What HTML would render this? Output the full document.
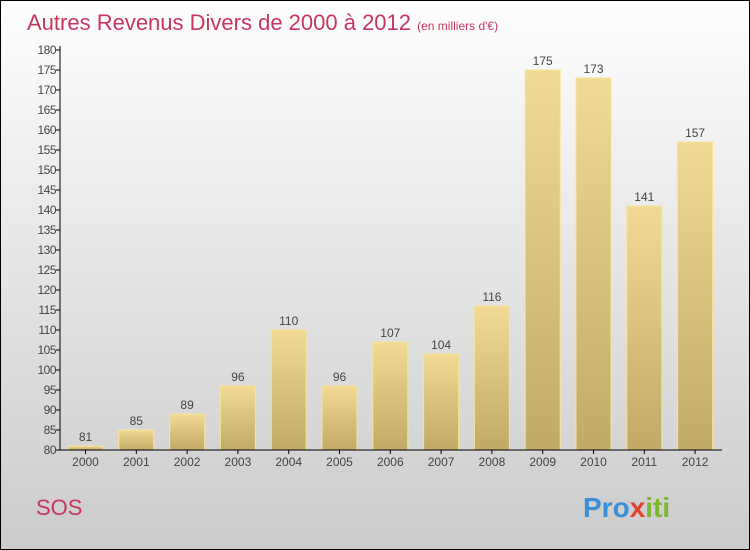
<!DOCTYPE html>
<html><head><meta charset="utf-8"><style>
body{margin:0}
svg{display:block;font-family:"Liberation Sans",sans-serif}
</style></head><body>
<svg id="c" width="750" height="550">
<defs>
<linearGradient id="bg" x1="0" y1="0" x2="0" y2="1"><stop offset="0" stop-color="#fefefe"/><stop offset="1" stop-color="#cbcbcb"/></linearGradient>
<linearGradient id="bar" x1="0" y1="0" x2="0" y2="1"><stop offset="0" stop-color="#f2da94"/><stop offset="1" stop-color="#c2aa66"/></linearGradient>
</defs>
<rect x="0.5" y="0.5" width="749" height="549" fill="url(#bg)" stroke="#000"/>
<text x="27" y="30" font-size="22" fill="#c8365f">Autres Revenus Divers de 2000 à 2012 <tspan font-size="12">(en milliers d'€)</tspan></text>
<text x="36" y="515" font-size="22" fill="#c8365f">SOS</text>
<text x="583" y="517" font-size="28" font-weight="bold"><tspan fill="#3a8fd6">Pro</tspan><tspan fill="#e2432e">x</tspan><tspan fill="#7cb72e">iti</tspan></text>
<g id="bars"></g>
<g id="axes"></g>
</svg>
<script>
const years=["2000","2001","2002","2003","2004","2005","2006","2007","2008","2009","2010","2011","2012"];
const values=[81,85,89,96,110,96,107,104,116,175,173,141,157];
const yTicks=[80,85,90,95,100,105,110,115,120,125,130,135,140,145,150,155,160,165,170,175,180];
const NS="http://www.w3.org/2000/svg";
const y=v=>450-(v-80)*4;
const x=i=>85.5+i*50.8;
function mk(t,a,p){const e=document.createElementNS(NS,t);for(const k in a)e.setAttribute(k,a[k]);p.appendChild(e);return e;}
const gb=document.getElementById('bars'),ga=document.getElementById('axes');
values.forEach((v,i)=>{
 const r=mk('rect',{x:x(i)-17.5,y:y(v),width:35,height:450-y(v),fill:'url(#bar)',stroke:'#f6e49a','stroke-width':1},gb);
 
 
 const t=mk('text',{x:x(i),y:y(v)-5,'text-anchor':'middle','font-size':12,fill:'#444'},gb);
 t.textContent=v;
 
 
 const xl=mk('text',{x:x(i),y:466,'text-anchor':'middle','font-size':12,fill:'#444'},ga);
 xl.textContent=years[i];
 
 
 mk('line',{x1:x(i),x2:x(i),y1:450,y2:454,stroke:'#000'},ga);
});
const ya=mk('line',{x1:60,x2:60,y1:46,y2:450,stroke:'#000'},ga);


const xa=mk('line',{x1:60,x2:722,y1:450,y2:450,stroke:'#000'},ga);


yTicks.forEach(v=>{
 mk('line',{x1:56,x2:60,y1:y(v),y2:y(v),stroke:'#000'},ga);
 const t=mk('text',{x:56,y:y(v)+4,'text-anchor':'end','font-size':12,fill:'#444','letter-spacing':'-0.5'},ga);
 t.textContent=v;
 
 
});
</script>
</body></html>
